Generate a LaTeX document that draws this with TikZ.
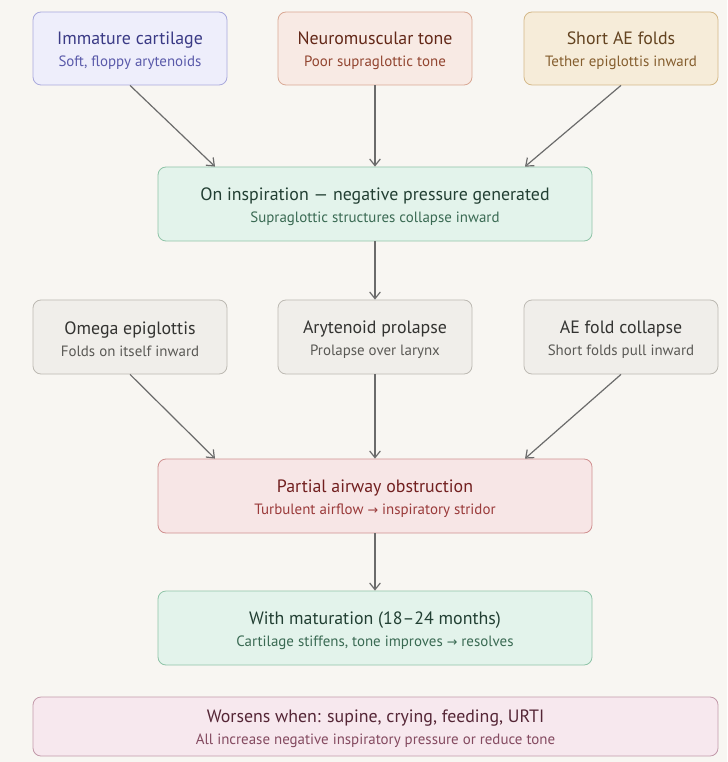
\documentclass[tikz,border=0pt]{standalone}
\usepackage{fontspec}
\setmainfont{PT Sans}
\newfontfamily\arrowfont{DejaVu Sans}
\usetikzlibrary{positioning,arrows.meta,calc}
\definecolor{bgcol}{HTML}{F8F6F2}
\definecolor{purfill}{HTML}{EEEEFB}\definecolor{purdraw}{HTML}{A9A9DC}
\definecolor{purtitle}{HTML}{3A3A85}\definecolor{pursub}{HTML}{5A5AAA}
\definecolor{rustfill}{HTML}{F8EAE4}\definecolor{rustdraw}{HTML}{D9A894}
\definecolor{rusttitle}{HTML}{632818}\definecolor{rustsub}{HTML}{924530}
\definecolor{sandfill}{HTML}{F6ECD9}\definecolor{sanddraw}{HTML}{D4B887}
\definecolor{sandtitle}{HTML}{634320}\definecolor{sandsub}{HTML}{855E2E}
\definecolor{grnfill}{HTML}{E3F3EB}\definecolor{grndraw}{HTML}{8FC4A8}
\definecolor{grntitle}{HTML}{223F33}\definecolor{grnsub}{HTML}{3A6A53}
\definecolor{gryfill}{HTML}{F0EEEA}\definecolor{grydraw}{HTML}{BDBAB3}
\definecolor{grytitle}{HTML}{333331}\definecolor{grysub}{HTML}{5A5955}
\definecolor{redfill}{HTML}{F7E6E6}\definecolor{reddraw}{HTML}{D09090}
\definecolor{redtitle}{HTML}{722020}\definecolor{redsub}{HTML}{9A3A3A}
\definecolor{pnkfill}{HTML}{F7E8EE}\definecolor{pnkdraw}{HTML}{C39AAA}
\definecolor{pnktitle}{HTML}{552636}\definecolor{pnksub}{HTML}{844A60}
\definecolor{arrcol}{HTML}{6B6B6B}
\newcommand{\lbl}[4]{{\fontsize{13.4pt}{16pt}\selectfont\color{#1}\rule{0pt}{13pt}#3}\\[4.5pt]{\fontsize{11.2pt}{13pt}\selectfont\color{#2}#4}}
\newcommand{\ra}{{\arrowfont\fontsize{9.5pt}{11pt}\selectfont →}}

\begin{document}
\begin{tikzpicture}[x=0.75pt,y=-0.75pt,
    card/.style={draw, rounded corners=6pt, line width=0.6pt, align=center, minimum width=145.5pt, minimum height=54.75pt, inner sep=0pt},
    wide/.style={card, minimum width=325.5pt, minimum height=55.5pt},
    link/.style={draw=arrcol, line width=0.9pt, -{Straight Barb[length=5pt,width=8pt]}}]
  \fill[bgcol] (0,0) rectangle (727,762);
  \useasboundingbox (0,0) rectangle (727,762);
  \node[card, fill=purfill, draw=purdraw] (imm) at (130,48.5) {\lbl{purtitle}{pursub}{Immature cartilage}{Soft, floppy arytenoids}};
  \node[card, fill=rustfill, draw=rustdraw] (tone) at (375,48.5) {\lbl{rusttitle}{rustsub}{Neuromuscular tone}{Poor supraglottic tone}};
  \node[card, fill=sandfill, draw=sanddraw] (short) at (621,48.5) {\lbl{sandtitle}{sandsub}{Short AE folds}{Tether epiglottis inward}};
  \node[wide, fill=grnfill, draw=grndraw] (insp) at (375,204) {\lbl{grntitle}{grnsub}{On inspiration --- negative pressure generated}{Supraglottic structures collapse inward}};
  \node[card, fill=gryfill, draw=grydraw, minimum height=55.5pt] (omega) at (130,337) {\lbl{grytitle}{grysub}{Omega epiglottis}{Folds on itself inward}};
  \node[card, fill=gryfill, draw=grydraw, minimum height=55.5pt] (aryt) at (375,337) {\lbl{grytitle}{grysub}{Arytenoid prolapse}{Prolapse over larynx}};
  \node[card, fill=gryfill, draw=grydraw, minimum height=55.5pt] (aefold) at (621,337) {\lbl{grytitle}{grysub}{AE fold collapse}{Short folds pull inward}};
  \node[wide, fill=redfill, draw=reddraw] (obst) at (375,496) {\lbl{redtitle}{redsub}{Partial airway obstruction}{Turbulent airflow \ra{} inspiratory stridor}};
  \node[wide, fill=grnfill, draw=grndraw] (matur) at (375,628) {\lbl{grntitle}{grnsub}{With maturation (18--24 months)}{Cartilage stiffens, tone improves \ra{} resolves}};
  \node[card, fill=pnkfill, draw=pnkdraw, minimum width=513.75pt, minimum height=44.25pt] (worse) at (375.5,726.5) {\lbl{pnktitle}{pnksub}{Worsens when: supine, crying, feeding, URTI}{All increase negative inspiratory pressure or reduce tone}};
  \draw[link] (imm.south) -- ([xshift=-120pt]insp.north);
  \draw[link] (tone.south) -- (insp.north);
  \draw[link] (short.south) -- ([xshift=112.5pt]insp.north);
  \draw[link] (insp.south) -- (aryt.north);
  \draw[link] (omega.south) -- ([xshift=-120pt]obst.north);
  \draw[link] (aryt.south) -- (obst.north);
  \draw[link] (aefold.south) -- ([xshift=112.5pt]obst.north);
  \draw[link] (obst.south) -- (matur.north);
\end{tikzpicture}
\end{document}
